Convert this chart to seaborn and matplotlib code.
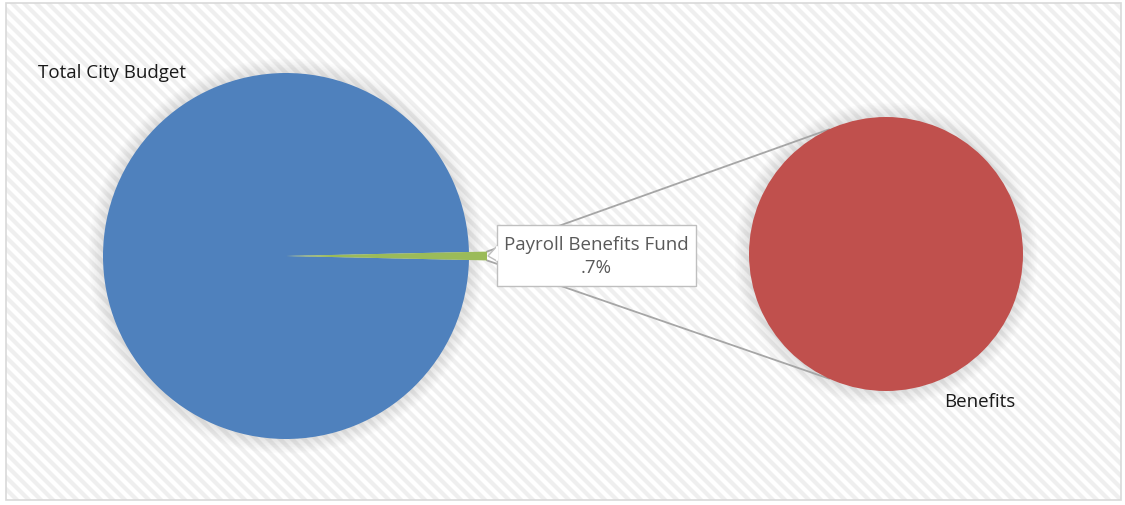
import numpy as np
import seaborn as sns
import matplotlib.pyplot as plt
from matplotlib.patches import Rectangle, Circle, Polygon
from matplotlib.collections import LineCollection

# data
categories = ["Total City Budget", "Payroll Benefits Fund"]
shares = [99.3, 0.7]
detail_labels = ["Benefits"]
detail_values = [100.0]
colors = ["#4F81BD", "#9BBB59"]
detail_colors = ["#C0504D"]

sns.set_theme(style="white")
plt.rcParams["font.family"] = ["Open Sans", "DejaVu Sans"]

fig = plt.figure(figsize=(11.25, 5.06), dpi=100)
ax = fig.add_axes([0, 0, 1, 1])

# background with diagonal stripes and frame
bg = Rectangle((6, 4), 1115, 497, facecolor="white", edgecolor="none", zorder=0)
ax.add_patch(bg)
offs = np.arange(-520, 1140, 12)
segs = [[(o, 0), (o + 520, 520)] for o in offs]
stripes = LineCollection(segs, colors="#efefef", linewidths=3.0, zorder=0.5)
ax.add_collection(stripes)
stripes.set_clip_path(bg)
ax.add_patch(Rectangle((6, 4), 1115, 497, facecolor="none", edgecolor="#d9d9d9", lw=1.2, zorder=1))

# main pie
c1, r1 = (286, 257), 183
c2, r2 = (886, 255), 137

# soft shadows
for k in range(1, 10):
    ax.add_patch(Circle(c1, r1 + k * 1.6, color="#888888", alpha=0.025, lw=0, zorder=1))
    ax.add_patch(Circle(c2, r2 + k * 1.6, color="#888888", alpha=0.025, lw=0, zorder=1))

half = shares[1] / sum(shares) * 360 / 2
wedges, _ = ax.pie(shares, colors=colors, startangle=half, center=c1, radius=r1,
                   wedgeprops=dict(linewidth=0, zorder=2))
wedges[1].set_radius(r1 + 18)
wedges[1].set_zorder(3)

# second pie
ax.pie(detail_values, colors=detail_colors, center=c2, radius=r2,
       wedgeprops=dict(linewidth=0, zorder=2))

# connector lines (y axis inverted: top is smaller y)
tip_r = r1 + 18
ang = np.deg2rad(half)
tip_top = (c1[0] + tip_r * np.cos(ang), c1[1] - tip_r * np.sin(ang))
tip_bot = (c1[0] + tip_r * np.cos(ang), c1[1] + tip_r * np.sin(ang))
con = np.deg2rad(114.5)
p_top = (c2[0] + r2 * np.cos(con), c2[1] - r2 * np.sin(con))
p_bot = (c2[0] + r2 * np.cos(con), c2[1] + r2 * np.sin(con))
ax.plot([tip_top[0], p_top[0]], [tip_top[1], p_top[1]], color="#a6a6a6", lw=1.3, zorder=1.5)
ax.plot([tip_bot[0], p_bot[0]], [tip_bot[1], p_bot[1]], color="#a6a6a6", lw=1.3, zorder=1.5)

# callout box for the small slice
bx, by, bw, bh = 497, 226, 199, 61
tail = Polygon([(bx, 247), (c1[0] + tip_r + 1, c1[1]), (bx, 262)], closed=True,
               facecolor="white", edgecolor="#bfbfbf", lw=1, zorder=4)
ax.add_patch(tail)
ax.add_patch(Rectangle((bx, by), bw, bh, facecolor="white", edgecolor="#bfbfbf", lw=1, zorder=5))
ax.plot([bx, bx], [248, 261], color="white", lw=1.5, zorder=5.5)
pct = f"{shares[1]:.1f}%".lstrip("0")
ax.text(bx + bw / 2, by + bh / 2, f"{categories[1]}\n{pct}", ha="center", va="center",
        fontsize=13.5, color="#595959", linespacing=1.3, zorder=6)

# series labels
ax.text(38, 73, categories[0], ha="left", va="center", fontsize=13.5, color="#1a1a1a", zorder=6)
ax.text(944, 402, detail_labels[0], ha="left", va="center", fontsize=13.5, color="#1a1a1a", zorder=6)

ax.set_xlim(0, 1125)
ax.set_ylim(506, 0)
ax.set_aspect("equal")
ax.axis("off")

fig.savefig("out.png", dpi=100, facecolor="white")
